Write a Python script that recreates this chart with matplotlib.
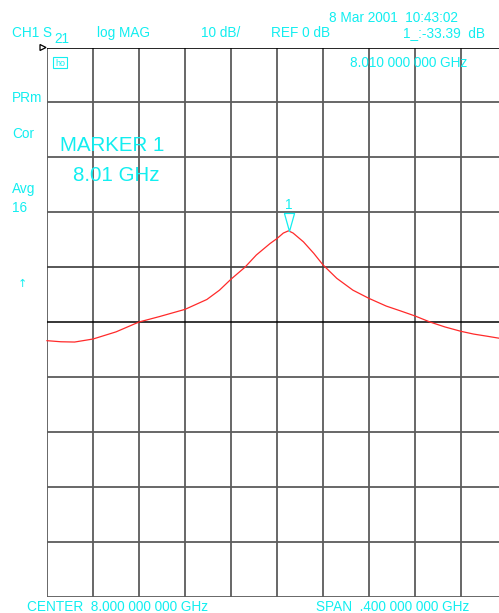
import matplotlib
matplotlib.use("Agg")
import matplotlib.pyplot as plt
from matplotlib.patches import Polygon, Rectangle
from matplotlib.transforms import IdentityTransform
import numpy as np

# ---- data ----
freq_ghz = [7.800, 7.812, 7.824, 7.840, 7.860, 7.880, 7.898, 7.920, 7.939,
            7.950, 7.960, 7.972, 7.982, 7.994, 8.000, 8.0055, 8.010, 8.014,
            8.023, 8.032, 8.040, 8.052, 8.066, 8.080, 8.095, 8.107, 8.120,
            8.133, 8.146, 8.160, 8.171, 8.183, 8.193, 8.200]
s21_db = [-53.4, -53.6, -53.65, -53.1, -51.8, -50.0, -49.0, -47.7, -45.9,
          -44.2, -42.2, -40.05, -37.8, -35.7, -34.8, -33.8, -33.39, -33.8,
          -35.4, -37.5, -39.6, -42.05, -44.2, -45.7, -47.1, -47.95, -48.9,
          -50.0, -50.9, -51.7, -52.2, -52.6, -52.95, -53.1]
marker_freq = 8.010
marker_db = -33.39
center_ghz = 8.0
span_ghz = 0.4
ref_db = 0.0
scale_db = 10.0
n_div = 10

W, H = 499, 613
CYAN = '#12eef0'
plt.rcParams['font.family'] = ['Liberation Sans', 'DejaVu Sans']

fig = plt.figure(figsize=(W / 100, H / 100), dpi=100)
fig.patch.set_facecolor('white')

# axes placed in pixel terms (grid 47..507 x, 47..597 y)
left, right, top, bottom = 47, 507, 47.5, 596.5
ax = fig.add_axes([left / W, 1 - bottom / H, (right - left) / W, (bottom - top) / H])
ax.set_xlim(center_ghz - span_ghz / 2, center_ghz + span_ghz / 2)
ax.set_ylim(ref_db - n_div * scale_db, ref_db)
ax.axis('off')

xs = np.linspace(center_ghz - span_ghz / 2, center_ghz + span_ghz / 2, n_div + 1)
ys = np.linspace(ref_db - n_div * scale_db, ref_db, n_div + 1)
for x in xs:
    ax.axvline(x, color='#5c5c5c', lw=1.3, zorder=1)
for y in ys:
    c, lw = '#5c5c5c', 1.3
    if np.isclose(y, -50):
        c, lw = '#000000', 1.1
    elif np.isclose(y, -40):
        c, lw = '#3a3a3a', 1.2
    elif np.isclose(y, 0):
        c, lw = '#000000', 1.2
    ax.axhline(y, color=c, lw=lw, zorder=1)

ax.plot(freq_ghz, s21_db, color='#ff2a2a', lw=0.9, zorder=3, clip_on=False,
        solid_joinstyle='round')

# marker triangle (tip on the trace) and label
tri = [(-0.28, 1.0), (0.28, 1.0), (0.0, 0.0), (-0.28, 1.0)]
ax.plot([marker_freq], [marker_db], marker=tri, markersize=26,
        markerfacecolor='none', markeredgecolor=CYAN, markeredgewidth=0.9,
        zorder=4, clip_on=False)
ax.annotate('1', (marker_freq, marker_db), xytext=(0, 15.5),
            textcoords='offset points', ha='center', va='baseline',
            color=CYAN, fontsize=9.8)

# ---- text (pixel positions -> figure fraction) ----
def t(x, y_base, s, size=9.8, **kw):
    fig.text(x / W, 1 - y_base / H, s, color=CYAN, fontsize=size,
             ha='left', va='baseline', **kw)

t(12, 37, 'CH1 S')
t(54, 43, '21')
t(97, 37, 'log MAG')
t(201, 37, '10 dB/')
t(271, 37, 'REF 0 dB')
t(329, 22, '8 Mar 2001  10:43:02')
t(403, 37, '1_:-33.39  dB')
t(350, 67, '8.010 000 000 GHz')
t(12, 102.5, 'PRm')
t(12, 138, 'Cor')
t(60, 151, 'MARKER 1', size=14.8)
t(73, 180.5, '8.01 GHz', size=14.8)
t(12, 193, 'Avg')
t(12, 212, '16')
fig.text(22 / W, 1 - 287 / H, '\u2191', color=CYAN, fontsize=8,
         ha='center', va='baseline', family=['DejaVu Sans'])
t(27, 611, 'CENTER  8.000 000 000 GHz')
t(316, 611, 'SPAN  .400 000 000 GHz')

# reference position triangle at left of top line
idt = IdentityTransform()
fig.patches.append(Polygon([(40, H - 44.5), (40, H - 50.5), (46, H - 47.5)],
                           closed=True, facecolor='white', edgecolor='black',
                           lw=0.9, transform=idt))
# small source indicator box
fig.patches.append(Rectangle((53, H - 68), 14, 11, facecolor='none',
                             edgecolor=CYAN, lw=0.8, transform=idt))
fig.text(60 / W, 1 - 66 / H, 'ho', color=CYAN, fontsize=6.5,
         ha='center', va='baseline')

fig.savefig('out.png', dpi=100)
